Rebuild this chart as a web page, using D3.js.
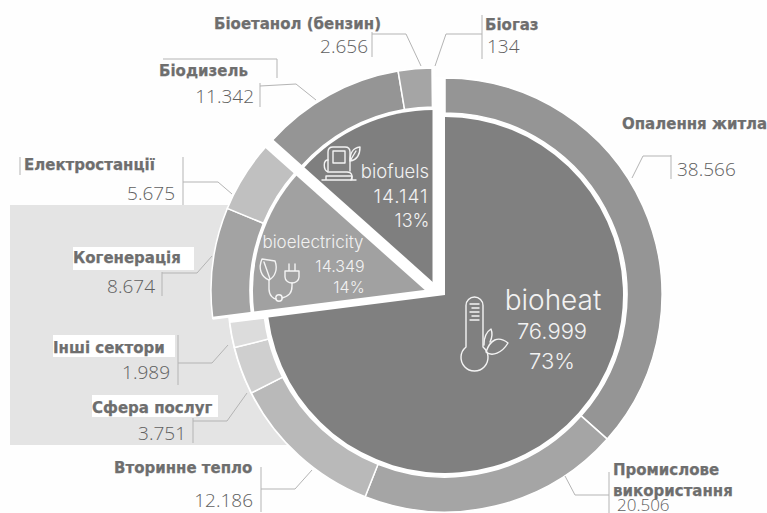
<!DOCTYPE html>
<html>
<head>
<meta charset="utf-8">
<script src="https://cdn.jsdelivr.net/npm/d3@7"></script>
<style>
  html, body { margin: 0; padding: 0; background: #fff; overflow: hidden; }
  .name { font-family: "DejaVu Sans", sans-serif; font-weight: 700; font-size: 15px; fill: #6e6e6e; stroke: #6e6e6e; stroke-width: 0.25; }
  .num { font-family: "Open Sans", sans-serif; font-weight: 300; font-size: 19px; fill: #606060; }
  .inner { font-family: "Inter", sans-serif; font-weight: 300; fill: #f2f2f2; text-anchor: middle; }
  .lead { fill: none; stroke: #b4b4b4; stroke-width: 1; }
  .icon { fill: none; stroke: #f4f4f4; stroke-width: 1.4; stroke-linejoin: round; stroke-linecap: round; }
</style>
</head>
<body>
<div id="plot1"></div>
<script>
// Data
const groupNames = ["bioheat", "bioelectricity", "biofuels"];
const groupValues = [76999, 14349, 14141];
const groupShares = ["73%", "14%", "13%"];

const heatNames = ["Опалення житла", "Промислове використання", "Вторинне тепло", "Сфера послуг", "Інші сектори"];
const heatValues = [38566, 20506, 12186, 3751, 1989];
const electricityNames = ["Когенерація", "Електростанції"];
const electricityValues = [8674, 5675];
const fuelNames = ["Біодизель", "Біоетанол (бензин)", "Біогаз"];
const fuelValues = [11342, 2656, 134];

const formatNumber = d => d3.format(",")(d).replace(/,/g, ".");

// Layout, one entry per group
const layout = [
  { cx: 445, cy: 295, ringInner: 182, discOuter: 178, fill: "#808080", ring: ["#959595", "#a5a5a5", "#b9b9b9", "#cfcfcf", "#dcdcdc"] },
  { cx: 428, cy: 291, ringInner: 178, discOuter: 175, fill: "#a1a1a1", ring: ["#a3a3a3", "#c0c0c0"] },
  { cx: 434, cy: 285, ringInner: 178, discOuter: 175, fill: "#7f7f7f", ring: ["#959595", "#a5a5a5", "#bbbbbb"] }
];
const ringOuter = 217;
const ringData = [heatValues, electricityValues, fuelValues];

const svg = d3.select("#plot1").append("svg")
  .attr("width", 767)
  .attr("height", 513);

svg.append("rect").attr("width", 767).attr("height", 513).attr("fill", "#fefefe");

// Grey panel behind the left part of the chart
svg.append("rect")
  .attr("x", 10).attr("y", 205)
  .attr("width", 290).attr("height", 240)
  .attr("fill", "#e4e4e4");

// White disc so the gaps between slices stay white over the panel
svg.append("circle")
  .attr("cx", layout[0].cx).attr("cy", layout[0].cy)
  .attr("r", ringOuter + 1)
  .attr("fill", "#fff");

// Angles of the three groups
const groupArcs = d3.pie().sort(null)(groupValues);

groupArcs.forEach((g, i) => {
  const l = layout[i];
  const node = svg.append("g").attr("transform", `translate(${l.cx},${l.cy})`);

  node.append("path")
    .attr("d", d3.arc().innerRadius(0).outerRadius(l.discOuter)(g))
    .attr("fill", l.fill);

  const ring = d3.pie().sort(null).startAngle(g.startAngle).endAngle(g.endAngle)(ringData[i]);
  node.selectAll(".seg")
    .data(ring)
    .join("path")
    .attr("class", "seg")
    .attr("d", d3.arc().innerRadius(l.ringInner).outerRadius(ringOuter))
    .attr("fill", (d, j) => l.ring[j])
    .attr("stroke", "#fff")
    .attr("stroke-width", 1.5);
});

// White edges along the sides of the pulled out slices
[1, 2].forEach(i => {
  const l = layout[i];
  const edge = d3.lineRadial();
  [groupArcs[i].startAngle, groupArcs[i].endAngle].forEach(a => {
    svg.append("path")
      .attr("transform", `translate(${l.cx},${l.cy})`)
      .attr("d", edge([[a, 0], [a, ringOuter]]))
      .attr("fill", "none")
      .attr("stroke", "#fff")
      .attr("stroke-width", 3);
  });
});

// Label backgrounds that were pasted over the panel
const patches = [[73, 247, 121, 23], [53, 335, 122, 22], [92, 395, 126, 22]];
svg.selectAll(".patch").data(patches).join("rect")
  .attr("class", "patch")
  .attr("x", d => d[0]).attr("y", d => d[1])
  .attr("width", d => d[2]).attr("height", d => d[3])
  .attr("fill", "#fff");

// Leader lines
const leaders = [
  "M372,32V57M372,34H406L421,66",
  "M482,15V59M482,34H446L435,66",
  "M260,83V107M260,86L296,84L316,100",
  "M163,59H277V78",
  "M183,157V205M183,182H218L232,194",
  "M162,272V296M162,273H197L212,256",
  "M178,335V385M178,363H212L228,345",
  "M193,418V443M193,421H227L247,393",
  "M261,467V512M261,489H295L312,470",
  "M671,155V179M671,156H643L632,178",
  "M609,472V513M609,495H575L565,476",
  "M20,157V175"
];
svg.selectAll(".lead").data(leaders).join("path")
  .attr("class", "lead")
  .attr("d", d => d);

// Outer labels
function label(name, x, y) {
  svg.append("text").attr("class", "name").attr("x", x).attr("y", y).text(name);
}
function number(value, x, y, anchor, size) {
  svg.append("text").attr("class", "num").attr("x", x).attr("y", y)
    .attr("text-anchor", anchor)
    .style("font-size", size ? size + "px" : null)
    .text(formatNumber(value));
}

label(fuelNames[1], 214, 29);
number(fuelValues[1], 368, 53, "end");
label(fuelNames[2], 485, 30);
number(fuelValues[2], 487, 53, "start");
label(fuelNames[0], 159, 76);
number(fuelValues[0], 254, 103, "end");
label(electricityNames[1], 24, 170);
number(electricityValues[1], 175, 200, "end");
label(electricityNames[0], 73, 263);
number(electricityValues[0], 155, 293, "end");
label(heatNames[4], 53, 353);
number(heatValues[4], 170, 379, "end");
label(heatNames[3], 92, 413);
number(heatValues[3], 186, 440, "end");
label(heatNames[2], 114, 473);
number(heatValues[2], 253, 507, "end");
label(heatNames[0], 622, 129);
number(heatValues[0], 677, 176, "start");
const [line1, line2] = heatNames[1].split(" ");
label(line1, 613, 475);
label(line2, 613, 496);
number(heatValues[1], 617, 511, "start", 17);

// Inner labels
function innerLabel(i, x, ys, sizes, spacing) {
  const rows = [groupNames[i], formatNumber(groupValues[i]), groupShares[i]];
  rows.forEach((t, j) => {
    svg.append("text").attr("class", "inner")
      .attr("x", x[j]).attr("y", ys[j])
      .style("font-size", sizes[j] + "px")
      .style("letter-spacing", (spacing ? spacing[j] : 0) + "px")
      .text(t);
  });
}
innerLabel(0, [553, 552, 552], [310, 339, 369], [28, 22, 22]);
innerLabel(1, [313, 340, 349], [248, 272, 293], [17, 16, 16]);
innerLabel(2, [395, 401, 412], [178, 203, 227], [18.5, 19, 18], [0, 1, 0]);

// Icons
const thermo = svg.append("g").attr("class", "icon");
thermo.append("path").attr("d", "M466,347V305.5a8.5,8.5 0 0 1 17,0V347a13.5,13.5 0 1 1 -17,0Z");
thermo.append("path").attr("d", "M470,304H479M472,308H479M470,312H479M472,316H479M470,320H479");
thermo.append("path").attr("d", "M486,352C490,340 498,335 508,343C502,353 492,357 486,352Z");
thermo.append("path").attr("d", "M484,345C484,338 486,332 491,329C493,334 492,338 490,342");

const plug = svg.append("g").attr("class", "icon");
plug.append("path").attr("d", "M262,259L275,261C278,269 275,277 269,280C261,277 258,268 262,259ZM264,262L270,279");
plug.append("path").attr("d", "M269,280V289C269,296 274,299 276,299");
plug.append("circle").attr("cx", 279).attr("cy", 298).attr("r", 3.2);
plug.append("path").attr("d", "M282,298C289,296 292,293 292,286V283");
plug.append("path").attr("d", "M285,271H299V277C299,281 295,283 292,283C289,283 285,281 285,277ZM289,271V264M295,271V264");

const pump = svg.append("g").attr("class", "icon");
pump.append("path").attr("d", "M328,171V152C328,149 330,147 333,147H345C348,147 350,149 350,152V171");
pump.append("path").attr("d", "M333,151H345V163H333Z");
pump.append("path").attr("d", "M322,180H356M326,180V176H352V180");
pump.append("path").attr("d", "M328,160C323,160 323,170 328,172H347C352,172 353,176 351,180");
pump.append("path").attr("d", "M350,161C350,152 353,148 360,147C360,154 357,160 350,161ZM350,161L356,151");
</script>
</body>
</html>
